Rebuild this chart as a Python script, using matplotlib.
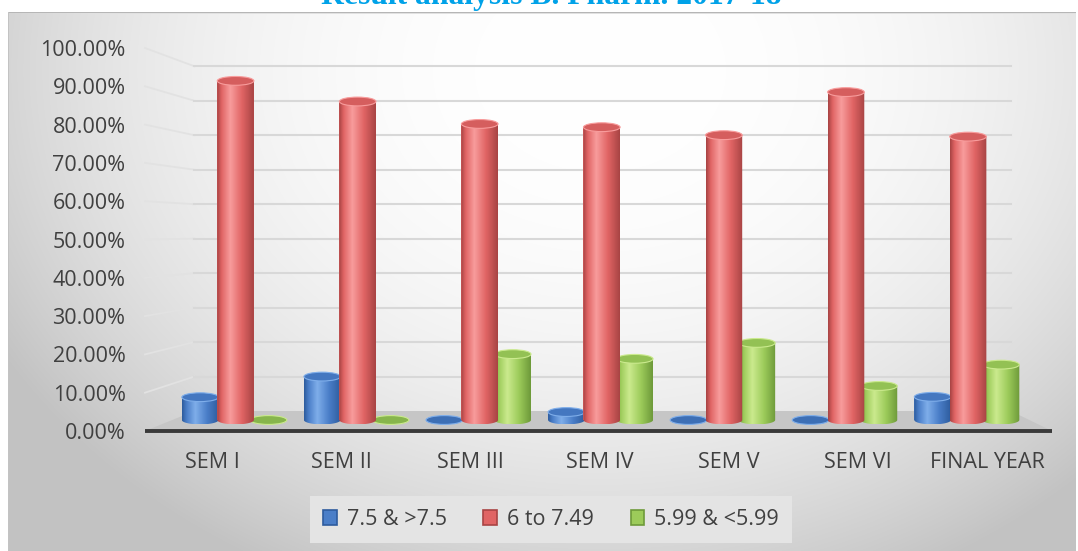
import numpy as np
import matplotlib.pyplot as plt
from matplotlib.patches import Ellipse, PathPatch, Patch, Polygon
from matplotlib.path import Path
from matplotlib.colors import to_rgb

plt.rcParams['font.family'] = ['Open Sans', 'DejaVu Sans']

# Data
categories = ['SEM I', 'SEM II', 'SEM III', 'SEM IV', 'SEM V', 'SEM VI', 'FINAL YEAR']
series = ['7.5 & >7.5', '6 to 7.49', '5.99 & <5.99']
top_grade = [6.3, 12.0, 0.0, 2.2, 0.0, 0.0, 6.4]
mid_grade = [93.7, 88.0, 81.8, 80.9, 78.7, 90.6, 78.3]
low_grade = [0.0, 0.0, 18.2, 16.9, 21.3, 9.4, 15.3]
yticks = np.arange(0, 101, 10)
title = 'Result analysis B. Pharm. 2017-18'

# Styles: (dark, base, light)
palette = [('#2E5C9E', '#4A7EC8', '#7FAEEA'),
           ('#A84444', '#E06464', '#F89C9C'),
           ('#6E9A3A', '#9CCB5A', '#CBEA8E')]
offsets = [-0.29, 0.0, 0.27]
bar_w = 0.30
cap_h = 2.3            # ellipse height in % units
k_mid, k_back = 0.945, 0.90
xc, yc = 3.31, 52.2    # perspective centre in data units

W, H = 1078, 551
fig = plt.figure(figsize=(W / 100, H / 100), dpi=100)

# Chart area background (radial grey gradient)
yy, xx = np.mgrid[0:H, 0:W]
r = np.sqrt(((xx - 600) / 640.0) ** 2 + ((yy - 70) / 520.0) ** 2)
g = np.clip(255 - 50 * r ** 2.4, 194, 255)
inside = (xx >= 8) & (xx <= 1075) & (yy >= 12)
img = np.where(inside, g, 255.0)
img[12, 8:1076] = 182
img[13, 8:1076] = np.minimum(img[13, 8:1076], 225)
img[12:, 8] = 195
img = np.dstack([img, img, img]) / 255.0
bg = fig.add_axes([0, 0, 1, 1], zorder=0)
bg.imshow(img, extent=[0, W, H, 0], aspect='auto', interpolation='bilinear')
bg.axis('off')

fig.text(551 / W, 1 - 4 / H, title, ha='center', va='baseline', fontsize=22.8,
         fontweight='bold', family='Liberation Serif', color='#00A2E8', zorder=3)

ax = fig.add_axes([145 / W, (H - 431) / H, 907 / W, 383 / H], zorder=1)
ax.set_facecolor('none')
x_lo, x_hi = -0.519, 6.502


def proj(x, v, k):
    return xc + (np.asarray(x) - xc) * k, yc + (np.asarray(v) - yc) * k


# Gridlines on side wall and back wall
for v in yticks[1:]:
    xb, yb = proj(x_lo, v, k_back)
    xr, _ = proj(x_hi, v, k_back)
    ax.plot([x_lo, xb], [v, yb], color='#E2E2E2', lw=1.3, zorder=1, clip_on=False)
    ax.plot([xb, xr], [yb, yb], color='#D8D8D8', lw=1.5, zorder=1, clip_on=False)

# Floor
bl = proj(x_lo, 0, k_back)
br = proj(x_hi, 0, k_back)
floor = Polygon([(x_lo, 0), (x_hi, 0), (float(br[0]), float(br[1])),
                 (float(bl[0]), float(bl[1]))], closed=True,
                facecolor='#C6C6C6', edgecolor='none', zorder=2, clip_on=False)
ax.add_patch(floor)
ax.plot([x_lo, x_hi], [0, 0], color='#3A3A3A', lw=2.8, zorder=3,
        solid_capstyle='butt', clip_on=False)


def shade(dark, base, light, n=64):
    t = np.linspace(0, 1, n)
    stops = [0, 0.12, 0.36, 0.68, 1.0]
    cols = [to_rgb(dark), to_rgb(base), to_rgb(light), to_rgb(base), to_rgb(dark)]
    arr = np.array([[np.interp(ti, stops, [c[ch] for c in cols]) for ch in range(3)]
                    for ti in t])
    return arr[np.newaxis, :, :]


all_values = [top_grade, mid_grade, low_grade]
zorders = [4, 6, 5]
for j, vals in enumerate(all_values):
    dark, base, light = palette[j]
    xs = np.arange(len(categories)) + offsets[j]
    X, Y0 = proj(xs, np.zeros(len(xs)), k_mid)
    _, Yv = proj(xs, vals, k_mid)
    wd = bar_w * k_mid
    z = zorders[j]
    bars = ax.bar(X, Yv - Y0, bottom=Y0, width=wd, color=base, linewidth=0,
                  zorder=z)
    grad = shade(dark, base, light)
    for b, xcen, y0, yv in zip(bars, X, Y0, Yv):
        xl, xr = xcen - wd / 2, xcen + wd / 2
        th = np.linspace(np.pi, 2 * np.pi, 40)
        ex = xcen + wd / 2 * np.cos(th)
        ey = y0 + cap_h / 2 * np.sin(th)
        verts = [(xl, yv)] + list(zip(ex, ey)) + [(xr, yv), (xl, yv)]
        codes = [Path.MOVETO] + [Path.LINETO] * (len(verts) - 2) + [Path.CLOSEPOLY]
        body = PathPatch(Path(verts, codes), facecolor='none', edgecolor='none')
        ax.add_patch(body)
        im = ax.imshow(grad, extent=[xl, xr, y0 - cap_h / 2, yv], aspect='auto',
                       interpolation='bilinear', zorder=z)
        im.set_clip_path(body)
        cap_col = tuple(0.55 * np.array(to_rgb(base)) + 0.45 * np.array(to_rgb(dark)))
        if yv - y0 > 0.5:
            cap_col = tuple(0.8 * np.array(to_rgb(base)) + 0.2 * np.array(to_rgb(dark)))
        ax.add_patch(Ellipse((xcen, yv), wd, cap_h, facecolor=cap_col,
                             edgecolor=light, lw=0.8, zorder=z + 0.1))

ax.set_xlim(x_lo, x_hi)
ax.set_ylim(0, 100)
ax.set_yticks(yticks)
ax.set_yticklabels([f'{v:.2f}%' for v in yticks])
ax.set_xticks(range(len(categories)))
ax.set_xticklabels(categories)
ax.tick_params(axis='y', length=0, pad=14, labelsize=15.5, labelcolor='#404040')
ax.tick_params(axis='x', length=0, pad=15, labelsize=15.5, labelcolor='#404040')
for s in ax.spines.values():
    s.set_visible(False)

handles = [Patch(facecolor=p[1], edgecolor=p[0], lw=1.2) for p in palette]
leg = fig.legend(handles, series, loc='center', bbox_to_anchor=(551 / W, 1 - 519.5 / H),
                 ncol=3, frameon=True, facecolor='#E4E4E4', edgecolor='none',
                 fancybox=False, framealpha=1, fontsize=15.5, handlelength=0.65,
                 handleheight=0.65, handletextpad=0.45, columnspacing=1.7,
                 borderpad=0.6, borderaxespad=0, labelcolor='#404040')
leg.set_zorder(5)

fig.savefig('out.png', dpi=100)
